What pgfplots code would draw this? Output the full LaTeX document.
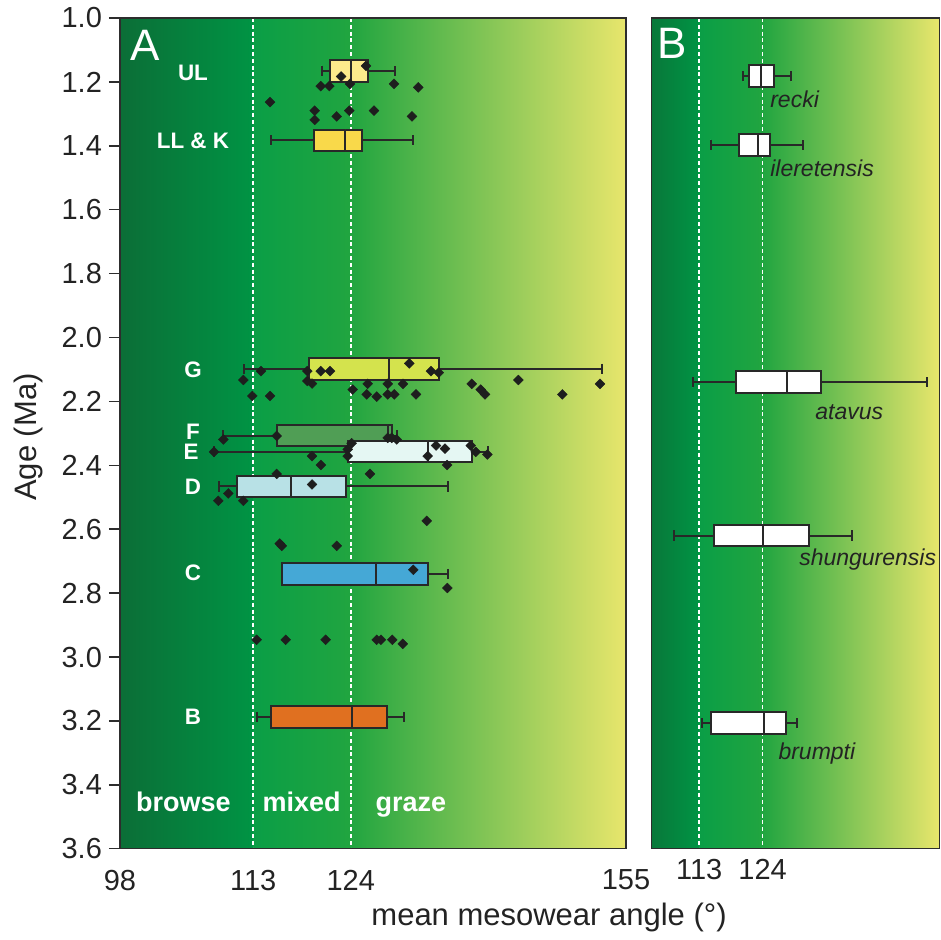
\documentclass[border=0pt]{standalone}
\usepackage{fontspec}
\setmainfont{Liberation Sans}
\usepackage{pgfplots}
\pgfplotsset{compat=1.18}
\usepgfplotslibrary{statistics}
\definecolor{g0}{RGB}{11,110,55}
\definecolor{g1}{RGB}{0,148,68}
\definecolor{gB0}{RGB}{8,120,58}
\definecolor{g2}{RGB}{10,158,70}
\definecolor{g3}{RGB}{33,165,64}
\definecolor{g4}{RGB}{232,230,108}
\definecolor{frame}{RGB}{45,45,45}
\definecolor{txt}{RGB}{35,35,35}
\definecolor{boxline}{RGB}{40,40,40}
\definecolor{pt}{RGB}{30,30,30}
\definecolor{cUL}{RGB}{252,234,140}
\definecolor{cLL}{RGB}{249,217,74}
\definecolor{cG}{RGB}{212,227,77}
\definecolor{cF}{RGB}{80,158,85}
\definecolor{cE}{RGB}{229,247,243}
\definecolor{cD}{RGB}{184,225,230}
\definecolor{cC}{RGB}{69,168,214}
\definecolor{cB}{RGB}{224,112,32}
\tikzset{
  grp/.style={font=\fontsize{11.2}{13}\selectfont\bfseries, text=white, anchor=center},
  spc/.style={font=\fontsize{11.5}{13}\selectfont\itshape, text=txt, anchor=base west, inner sep=0pt},
  zone/.style={font=\fontsize{13.5}{16}\selectfont\bfseries, text=white, anchor=base},
}
\pgfplotsset{
  boxplot/every box/.style={draw=boxline, line width=1pt},
  boxplot/every whisker/.style={draw=boxline, line width=1pt},
  boxplot/every median/.style={draw=boxline, line width=1pt},
  bx/.style={draw=boxline, line width=1pt, solid, mark=none,
    boxplot/draw direction=x, boxplot/box extend=0.068, boxplot/whisker extend=0.032},
  pts/.style={only marks, mark=square*, mark size=1.75pt,
    mark options={rotate=45, fill=pt, draw=pt, line width=0.2pt}},
  common/.style={
    scale only axis, height=415.35pt, ymin=1, ymax=3.6, y dir=reverse,
    axis on top, clip=false,
    axis line style={draw=frame, line width=0.75pt},
    x tick style={draw=none},
    xtick pos=bottom,
    xticklabel style={font=\fontsize{14.5}{17}\selectfont, text=txt, yshift=-1.5pt},
    /pgf/number format/assume math mode=true,
  },
}
\begin{document}
\begin{tikzpicture}
\begin{axis}[common, name=A, at={(0,0)}, anchor=south west, width=253pt,
  xmin=98, xmax=155,
  xtick={98,113,124,155},
  ytick={1.2,1.4,1.6,1.8,2.0,2.2,2.4,2.6,2.8,3.0,3.2,3.4},
  yticklabels={1.2,1.4,1.6,1.8,2.0,2.2,2.4,2.6,2.8,3.0,3.2,3.4},
  extra y ticks={1.0,3.6}, extra y tick labels={1.0,3.6},
  extra y tick style={tick style={draw=none}},
  ytick pos=left, tick align=outside, major tick length=5.5pt,
  y tick style={draw=frame, line width=0.75pt},
  yticklabel style={font=\fontsize{14.5}{17}\selectfont, text=txt},
]
\path[left color=g0, right color=g1] (axis cs:98,1) rectangle (axis cs:113.05,3.6);
\path[left color=g2, right color=g3] (axis cs:113,1) rectangle (axis cs:124.05,3.6);
\path[left color=g3, right color=g4] (axis cs:124,1) rectangle (axis cs:155,3.6);
\draw[white, line width=0.8pt, dash pattern=on 2pt off 1.4pt] (axis cs:113,1) -- (axis cs:113,3.6);
\draw[white, line width=0.8pt, dash pattern=on 2pt off 1.4pt] (axis cs:124,1) -- (axis cs:124,3.6);

\addplot[bx, fill=cUL, boxplot prepared={lower whisker=120.72, lower quartile=121.66, median=123.99, upper quartile=125.97, upper whisker=128.98, draw position=1.165}] coordinates {};
\addplot[bx, fill=cLL, boxplot prepared={lower whisker=114.98, lower quartile=119.89, median=123.38, upper quartile=125.30, upper whisker=130.97, draw position=1.383}] coordinates {};
\addplot[bx, fill=cG, boxplot prepared={lower whisker=112.00, lower quartile=119.26, median=128.27, upper quartile=133.97, upper whisker=152.26, draw position=2.098}] coordinates {};
\addplot[bx, fill=cF, boxplot prepared={lower whisker=109.64, lower quartile=115.65, median=128.19, upper quartile=128.67, upper whisker=129.24, draw position=2.307}] coordinates {};
\addplot[bx, fill=cE, boxplot prepared={lower whisker=108.59, lower quartile=123.65, median=132.66, upper quartile=137.62, upper whisker=139.49, draw position=2.357}] coordinates {};
\addplot[bx, fill=cD, boxplot prepared={lower whisker=109.15, lower quartile=111.15, median=117.26, upper quartile=123.46, upper whisker=134.98, draw position=2.466}] coordinates {};
\addplot[bx, fill=cC, boxplot prepared={lower whisker=116.28, lower quartile=116.28, median=126.80, upper quartile=132.66, upper whisker=134.98, draw position=2.740}] coordinates {};
\addplot[bx, fill=cB, boxplot prepared={lower whisker=113.40, lower quartile=115.01, median=124.17, upper quartile=128.11, upper whisker=129.99, draw position=3.188}] coordinates {};

% UL and LL & K
\addplot[pts] table {
x y
125.71 1.150
122.90 1.183
120.61 1.213
121.58 1.213
123.91 1.206
128.87 1.206
131.60 1.217
114.90 1.263
119.93 1.290
119.93 1.319
122.41 1.308
123.83 1.290
126.61 1.290
130.89 1.308
};
% G
\addplot[pts] table {
x y
113.88 2.105
111.89 2.133
112.90 2.183
114.90 2.183
119.10 2.105
120.61 2.105
121.66 2.105
119.10 2.136
119.63 2.144
130.59 2.081
133.03 2.105
133.90 2.110
124.21 2.163
125.90 2.145
128.16 2.145
129.88 2.145
125.79 2.178
126.92 2.185
128.16 2.178
128.90 2.178
131.34 2.178
137.62 2.145
138.63 2.163
139.12 2.178
142.87 2.133
147.83 2.178
152.07 2.145
};
% F
\addplot[pts] table {
x y
109.64 2.319
115.65 2.308
128.16 2.314
128.61 2.314
129.17 2.319
};
% E
\addplot[pts] table {
x y
108.59 2.358
124.10 2.331
123.65 2.350
123.65 2.371
119.63 2.371
120.64 2.399
126.16 2.427
132.66 2.371
133.60 2.338
134.61 2.348
137.51 2.338
138.07 2.358
139.38 2.366
134.84 2.399
};
% D
\addplot[pts] table {
x y
115.65 2.427
119.63 2.460
110.20 2.488
109.07 2.511
111.89 2.511
132.55 2.574
};
% C
\addplot[pts] table {
x y
116.22 2.652
116.00 2.645
122.41 2.652
131.04 2.727
134.87 2.784
};
% between C and B
\addplot[pts] table {
x y
113.40 2.946
116.67 2.946
121.17 2.946
126.92 2.946
127.40 2.946
128.67 2.946
129.85 2.959
};

\node[grp] at (axis cs:106.22,1.172) {UL};
\node[grp] at (axis cs:106.22,1.385) {LL \& K};
\node[grp] at (axis cs:106.22,2.102) {G};
\node[grp] at (axis cs:106.22,2.296) {F};
\node[grp] at (axis cs:106.0,2.358) {E};
\node[grp] at (axis cs:106.22,2.468) {D};
\node[grp] at (axis cs:106.22,2.737) {C};
\node[grp] at (axis cs:106.22,3.188) {B};
\node[zone] at (axis cs:105.15,3.484) {browse};
\node[zone] at (axis cs:118.47,3.484) {mixed};
\node[zone] at (axis cs:130.78,3.484) {graze};
\node[anchor=north west, inner sep=0pt, text=white, font=\fontsize{22}{26}\selectfont] at (axis description cs:0.0198,0.9856) {A};
\node[anchor=base, font=\fontsize{15.5}{18}\selectfont, text=txt] at (axis description cs:0.848,-0.093) {mean mesowear angle (°)};
\node[rotate=90, anchor=center, font=\fontsize{15.5}{18}\selectfont, text=txt] at (axis description cs:-0.181,0.4956) {Age (Ma)};
\end{axis}

\begin{axis}[common, name=B, at={(265.85pt,0)}, anchor=south west, width=144pt,
  xmin=104.75, xmax=154.75,
  xtick={113,124}, ytick=\empty,
]
\path[left color=gB0, right color=g1] (axis cs:104.75,1) rectangle (axis cs:113.05,3.6);
\path[left color=g2, right color=g3] (axis cs:113,1) rectangle (axis cs:124.05,3.6);
\path[left color=g3, right color=g4] (axis cs:124,1) rectangle (axis cs:154.75,3.6);
\draw[white, line width=0.8pt, dash pattern=on 2pt off 1.4pt] (axis cs:113,1) -- (axis cs:113,3.6);
\draw[white, line width=0.8pt, dash pattern=on 2pt off 1.4pt] (axis cs:124,1) -- (axis cs:124,3.6);

\addplot[bx, fill=white, boxplot prepared={lower whisker=120.6, lower quartile=121.6, median=123.8, upper quartile=126.0, upper whisker=129.0, draw position=1.182}] coordinates {};
\addplot[bx, fill=white, boxplot prepared={lower whisker=115.0, lower quartile=119.9, median=123.2, upper quartile=125.3, upper whisker=131.1, draw position=1.397}] coordinates {};
\addplot[bx, fill=white, boxplot prepared={lower whisker=111.9, lower quartile=119.3, median=128.3, upper quartile=134.1, upper whisker=152.5, draw position=2.140}] coordinates {};
\addplot[bx, fill=white, boxplot prepared={lower whisker=108.6, lower quartile=115.6, median=124.0, upper quartile=132.1, upper whisker=139.6, draw position=2.620}] coordinates {};
\addplot[bx, fill=white, boxplot prepared={lower whisker=113.4, lower quartile=115.0, median=124.2, upper quartile=128.1, upper whisker=130.0, draw position=3.207}] coordinates {};

\node[spc] at (axis cs:125.27,1.281) {recki};
\node[spc] at (axis cs:125.27,1.497) {ileretensis};
\node[spc] at (axis cs:133.1,2.256) {atavus};
\node[spc] at (axis cs:130.3,2.715) {shungurensis};
\node[spc] at (axis cs:126.7,3.320) {brumpti};
\node[anchor=north west, inner sep=0pt, text=white, font=\fontsize{22}{26}\selectfont] at (axis description cs:0.017,0.988) {B};
\end{axis}
\pgfresetboundingbox
\useasboundingbox (-60pt,-45.15pt) rectangle (410.5pt,424.35pt);
\end{tikzpicture}
\end{document}
